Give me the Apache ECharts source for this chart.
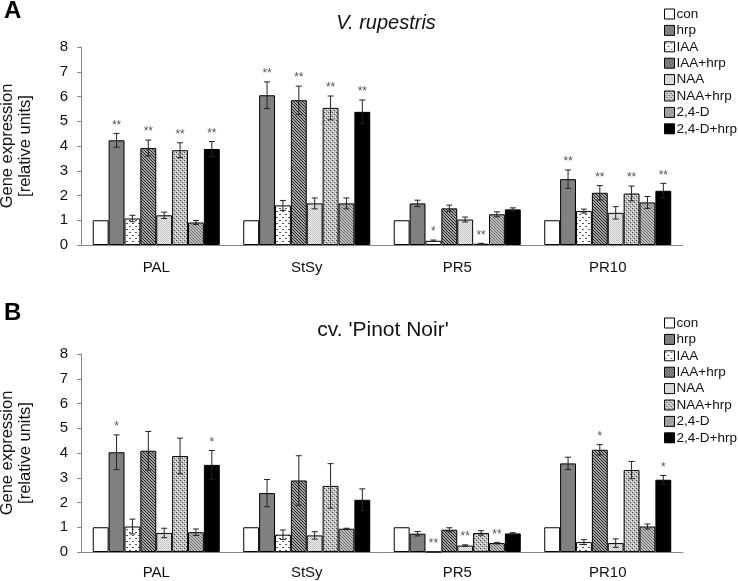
<!DOCTYPE html>
<html>
<head>
<meta charset="utf-8">
<script src="https://cdn.jsdelivr.net/npm/echarts@6/dist/echarts.min.js"></script>
<style>html,body{margin:0;padding:0;background:#fff}#c{width:738px;height:581px}</style>
</head>
<body>
<div id="c"></div>
<script>
// ---------- data ----------
var categories = ['PAL', 'StSy', 'PR5', 'PR10'];
var seriesNames = ['con', 'hrp', 'IAA', 'IAA+hrp', 'NAA', 'NAA+hrp', '2,4-D', '2,4-D+hrp'];
var yTicks = [0, 1, 2, 3, 4, 5, 6, 7, 8];

// Panel A: V. rupestris  (values per series, across categories PAL, StSy, PR5, PR10)
var A_con      = [1.00, 1.00, 1.00, 1.00];
var A_hrp      = [4.23, 6.05, 1.68, 2.66];
var A_IAA      = [1.07, 1.60, 0.17, 1.37];
var A_IAAhrp   = [3.92, 5.85, 1.48, 2.11];
var A_NAA      = [1.20, 1.68, 1.03, 1.30];
var A_NAAhrp   = [3.83, 5.54, 0.05, 2.08];
var A_24D      = [0.91, 1.68, 1.24, 1.72];
var A_24Dhrp   = [3.88, 5.38, 1.44, 2.19];
// error bars
var A_con_err    = [0, 0, 0, 0];
var A_hrp_err    = [0.28, 0.54, 0.13, 0.37];
var A_IAA_err    = [0.13, 0.20, 0.03, 0.08];
var A_IAAhrp_err = [0.32, 0.57, 0.13, 0.29];
var A_NAA_err    = [0.13, 0.22, 0.10, 0.25];
var A_NAAhrp_err = [0.30, 0.48, 0.02, 0.30];
var A_24D_err    = [0.08, 0.22, 0.10, 0.24];
var A_24Dhrp_err = [0.30, 0.48, 0.06, 0.30];
// significance marks
var A_con_sig    = ['', '', '', ''];
var A_hrp_sig    = ['**', '**', '', '**'];
var A_IAA_sig    = ['', '', '*', ''];
var A_IAAhrp_sig = ['**', '**', '', '**'];
var A_NAA_sig    = ['', '', '', ''];
var A_NAAhrp_sig = ['**', '**', '**', '**'];
var A_24D_sig    = ['', '', '', ''];
var A_24Dhrp_sig = ['**', '**', '', '**'];

// Panel B: cv. 'Pinot Noir'
var B_con      = [1.00, 1.00, 1.00, 1.00];
var B_hrp      = [4.03, 2.38, 0.74, 3.58];
var B_IAA      = [1.03, 0.70, 0.01, 0.40];
var B_IAAhrp   = [4.09, 2.89, 0.90, 4.13];
var B_NAA      = [0.77, 0.67, 0.26, 0.36];
var B_NAAhrp   = [3.88, 2.67, 0.77, 3.31];
var B_24D      = [0.80, 0.94, 0.36, 1.03];
var B_24Dhrp   = [3.52, 2.11, 0.75, 2.92];
var B_con_err    = [0, 0, 0, 0];
var B_hrp_err    = [0.70, 0.55, 0.09, 0.25];
var B_IAA_err    = [0.30, 0.19, 0.00, 0.10];
var B_IAAhrp_err = [0.78, 1.00, 0.08, 0.21];
var B_NAA_err    = [0.19, 0.15, 0.03, 0.17];
var B_NAAhrp_err = [0.72, 0.90, 0.09, 0.35];
var B_24D_err    = [0.13, 0.02, 0.03, 0.10];
var B_24Dhrp_err = [0.58, 0.44, 0.03, 0.17];
var B_con_sig    = ['', '', '', ''];
var B_hrp_sig    = ['*', '', '', ''];
var B_IAA_sig    = ['', '', '**', ''];
var B_IAAhrp_sig = ['', '', '', '*'];
var B_NAA_sig    = ['', '', '**', ''];
var B_NAAhrp_sig = ['', '', '', ''];
var B_24D_sig    = ['', '', '**', ''];
var B_24Dhrp_sig = ['*', '', '', '*'];

var A_vals = [A_con, A_hrp, A_IAA, A_IAAhrp, A_NAA, A_NAAhrp, A_24D, A_24Dhrp];
var A_errs = [A_con_err, A_hrp_err, A_IAA_err, A_IAAhrp_err, A_NAA_err, A_NAAhrp_err, A_24D_err, A_24Dhrp_err];
var A_sigs = [A_con_sig, A_hrp_sig, A_IAA_sig, A_IAAhrp_sig, A_NAA_sig, A_NAAhrp_sig, A_24D_sig, A_24Dhrp_sig];
var B_vals = [B_con, B_hrp, B_IAA, B_IAAhrp, B_NAA, B_NAAhrp, B_24D, B_24Dhrp];
var B_errs = [B_con_err, B_hrp_err, B_IAA_err, B_IAAhrp_err, B_NAA_err, B_NAAhrp_err, B_24D_err, B_24Dhrp_err];
var B_sigs = [B_con_sig, B_hrp_sig, B_IAA_sig, B_IAAhrp_sig, B_NAA_sig, B_NAAhrp_sig, B_24D_sig, B_24Dhrp_sig];

// ---------- fill patterns ----------
function pattern(w, h, bg, pix) {
  var c = document.createElement('canvas');
  c.width = w; c.height = h;
  var ctx = c.getContext('2d');
  ctx.fillStyle = bg; ctx.fillRect(0, 0, w, h);
  pix.forEach(function (p) { ctx.fillStyle = p[2]; ctx.fillRect(p[0], p[1], p[3] || 1, 1); });
  return { image: c, repeat: 'repeat' };
}
var fills = [
  '#ffffff',
  '#808080',
  pattern(6, 6, '#ffffff', [[0, 1, '#555', 2], [3, 4, '#555', 2]]),
  pattern(3, 3, '#a4a4a4', [[0, 0, '#222'], [1, 1, '#222'], [2, 2, '#222']]),
  pattern(2, 2, '#efefef', [[0, 0, '#bdbdbd'], [1, 1, '#c8c8c8']]),
  pattern(4, 4, '#c0c0c0', [[0, 0, '#444'], [2, 2, '#444'], [1, 3, '#ffffff'], [3, 1, '#ffffff']]),
  pattern(3, 3, '#bcbcbc', [[0, 0, '#6a6a6a'], [1, 1, '#6a6a6a'], [2, 2, '#6a6a6a']]),
  '#000000'
];

var CAT_GAP = 0.156;
var FONT = 'Liberation Sans, Arial, sans-serif';

function makeErr(vals, errs, sigs, idx, axisIdx) {
  var data = vals.map(function (v, i) { return [i, v, errs[i]]; });
  return {
    type: 'custom',
    name: seriesNames[idx],
    xAxisIndex: axisIdx, yAxisIndex: axisIdx,
    z: 5,
    silent: true,
    data: data,
    renderItem: function (params, api) {
      var ci = api.value(0), v = api.value(1), e = api.value(2);
      var c = api.coord([ci, v]);
      var catW = api.size([1, 0])[0];
      var bw = catW * (1 - CAT_GAP) / 8;
      var x = c[0] + (idx - 3.5) * bw;
      var yt = api.coord([ci, v + e])[1];
      var yb = api.coord([ci, Math.max(v - e, 0)])[1];
      var ch = [];
      if (e > 0) {
        var st = { stroke: '#222', lineWidth: 1 };
        ch.push({ type: 'line', shape: { x1: x, y1: yt, x2: x, y2: yb }, style: st });
        ch.push({ type: 'line', shape: { x1: x - 3, y1: yt, x2: x + 3, y2: yt }, style: st });
        ch.push({ type: 'line', shape: { x1: x - 3, y1: yb, x2: x + 3, y2: yb }, style: st });
      }
      var s = sigs[params.dataIndex];
      if (s) {
        ch.push({ type: 'text', style: { text: s, x: x, y: yt - 2, textAlign: 'center', textVerticalAlign: 'bottom', fill: '#555', font: '12px ' + FONT } });
      }
      return { type: 'group', children: ch };
    }
  };
}

var series = [];
[[A_vals, A_errs, A_sigs, 0], [B_vals, B_errs, B_sigs, 1]].forEach(function (p) {
  seriesNames.forEach(function (nm, i) {
    series.push({
      type: 'bar', name: nm, xAxisIndex: p[3], yAxisIndex: p[3],
      data: p[0][i], barGap: '0%', barCategoryGap: (CAT_GAP * 100) + '%',
      itemStyle: { color: fills[i], borderColor: '#000', borderWidth: 1 },
      silent: true, animation: false
    });
  });
});
[[A_vals, A_errs, A_sigs, 0], [B_vals, B_errs, B_sigs, 1]].forEach(function (p) {
  seriesNames.forEach(function (nm, i) {
    series.push(makeErr(p[0][i], p[1][i], p[2][i], i, p[3]));
  });
});

function yAxis(gi) {
  return {
    type: 'value', gridIndex: gi, min: yTicks[0], max: yTicks[yTicks.length - 1], interval: 1,
    name: 'Gene expression\n[relative units]', nameLocation: 'middle', nameGap: 47, nameRotate: 90,
    nameTextStyle: { fontSize: 16.5, fontFamily: FONT, color: '#111', lineHeight: 18 },
    axisLine: { show: true, lineStyle: { color: '#888' } },
    axisTick: { show: true, length: 4, lineStyle: { color: '#888' } },
    axisLabel: { fontSize: 15, fontFamily: FONT, color: '#111', margin: 13 },
    splitLine: { show: false }
  };
}
function xAxis(gi, margin) {
  return {
    type: 'category', gridIndex: gi, data: categories,
    axisLine: { lineStyle: { color: '#888' } },
    axisTick: { inside: true, length: 5, lineStyle: { color: '#888' } },
    axisLabel: { fontSize: 15, fontFamily: FONT, color: '#111', margin: margin }
  };
}
function legend(top) {
  return {
    data: seriesNames.map(function (n) { return { name: n, icon: 'rect' }; }),
    orient: 'vertical', left: 664, top: top, padding: 0,
    itemWidth: 10, itemHeight: 10, itemGap: 2.4,
    selectedMode: false,
    textStyle: { fontSize: 13.5, fontFamily: FONT, color: '#111', padding: [0, 0, 0, -3], lineHeight: 14 },
    itemStyle: { borderColor: '#000', borderWidth: 1 }
  };
}

var chart = echarts.init(document.getElementById('c'), null, { renderer: 'canvas' });
chart.setOption({
  animation: false,
  backgroundColor: '#fff',
  title: [
    { text: 'A', left: 4, top: -1, padding: 0, textStyle: { fontSize: 24, fontWeight: 'bold', fontFamily: FONT, color: '#000' } },
    { text: 'V. rupestris', left: 386, top: 13, padding: 0, textAlign: 'center', textStyle: { fontSize: 20, fontStyle: 'italic', fontWeight: 'normal', fontFamily: FONT, color: '#111' } },
    { text: 'B', left: 4, top: 301, padding: 0, textStyle: { fontSize: 24, fontWeight: 'bold', fontFamily: FONT, color: '#000' } },
    { text: "cv. 'Pinot Noir'", left: 383, top: 320, padding: 0, textAlign: 'center', textStyle: { fontSize: 21, fontWeight: 'normal', fontFamily: FONT, color: '#111' } }
  ],
  legend: [legend(7), legend(316)],
  grid: [
    { left: 81, right: 55, top: 47, height: 198, containLabel: false, outerBoundsMode: 'none' },
    { left: 81, right: 55, top: 354, height: 198, containLabel: false, outerBoundsMode: 'none' }
  ],
  xAxis: [xAxis(0, 15), xAxis(1, 13)],
  yAxis: [yAxis(0), yAxis(1)],
  series: series
});
</script>
</body>
</html>
